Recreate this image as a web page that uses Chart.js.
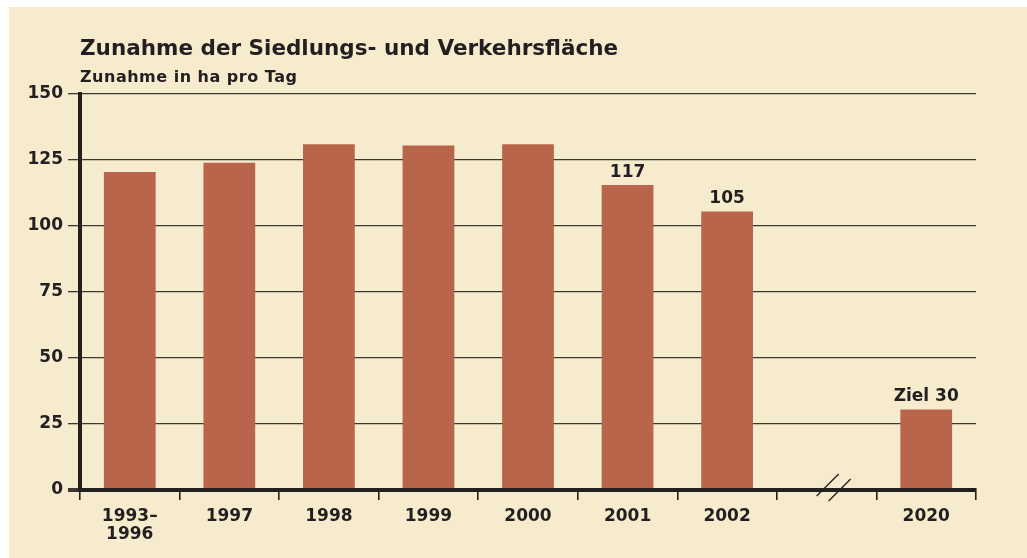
<!DOCTYPE html>
<html>
<head>
<meta charset="utf-8">
<script src="https://cdn.jsdelivr.net/npm/chart.js@4/dist/chart.umd.min.js"></script>
<style>
  html, body { margin: 0; padding: 0; background: #ffffff; }
  #wrap { position: relative; width: 1027px; height: 558px; overflow: hidden; }
  #panel { position: absolute; left: 9px; top: 7px; right: 0; bottom: 0; background: #f6ebcd; }
  #chart { position: absolute; left: 0; top: 0; }
  .t { position: absolute; left: 80px; font-family: "DejaVu Sans", sans-serif; font-weight: 700; color: #231f20; white-space: nowrap; line-height: 1; }
  #title { top: 37px; font-size: 21.5px; }
  #subtitle { top: 68.5px; font-size: 16px; letter-spacing: 0.5px; }
</style>
</head>
<body>
<div id="wrap">
  <div id="panel"></div>
  <canvas id="chart" width="1027" height="558"></canvas>
  <div class="t" id="title">Zunahme der Siedlungs- und Verkehrsfläche</div>
  <div class="t" id="subtitle">Zunahme in ha pro Tag</div>
</div>
<script>
// Kategorien und Werte
const categories = [['1993–', '1996'], '1997', '1998', '1999', '2000', '2001', '2002', '', '2020'];
const values = [120.5, 124, 131, 130.5, 131, 115.5, 105.5, null, 30.5];
const valueLabels = ['', '', '', '', '', '117', '105', '', 'Ziel 30'];
const yTicks = [0, 25, 50, 75, 100, 125, 150];
const breakIndex = 7;

const ink = '#231f20';
const fontFamily = '"DejaVu Sans", sans-serif';

// Beschriftungen über den Balken
const barLabels = {
  id: 'barLabels',
  afterDatasetsDraw(chart) {
    const ctx = chart.ctx;
    const meta = chart.getDatasetMeta(0);
    ctx.save();
    ctx.font = 'bold 17px ' + fontFamily;
    ctx.fillStyle = ink;
    ctx.textAlign = 'center';
    ctx.textBaseline = 'alphabetic';
    meta.data.forEach(function(bar, i) {
      if (valueLabels[i]) {
        ctx.fillText(valueLabels[i], bar.x, bar.y - 8);
      }
    });
    ctx.restore();
  }
};

// Achsenbruch "//"
const axisBreak = {
  id: 'axisBreak',
  afterDraw(chart) {
    const ctx = chart.ctx;
    const x = chart.scales.x.getPixelForValue(breakIndex);
    const y = chart.scales.y.getPixelForValue(0);
    ctx.save();
    ctx.strokeStyle = ink;
    ctx.lineWidth = 1.3;
    for (let k = 0; k < 2; k++) {
      ctx.beginPath();
      ctx.moveTo(x - 10 + k * 12, y + 6 + k * 5);
      ctx.lineTo(x + 12 + k * 12, y - 16 + k * 5);
      ctx.stroke();
    }
    ctx.restore();
  }
};

const ctx = document.getElementById('chart');
new Chart(ctx, {
  type: 'bar',
  data: {
    labels: categories,
    datasets: [{
      data: values,
      backgroundColor: '#b9654b',
      borderWidth: 0,
      barPercentage: 0.52,
      categoryPercentage: 1.0
    }]
  },
  options: {
    responsive: false,
    animation: false,
    devicePixelRatio: 1,
    layout: { padding: { left: 0, right: 51, top: 94, bottom: 0 } },
    plugins: {
      legend: { display: false },
      tooltip: { enabled: false }
    },
    scales: {
      x: {
        afterFit: function(scale) { scale.height = 68; },
        grid: {
          offset: true,
          drawOnChartArea: false,
          drawTicks: true,
          tickLength: 10,
          color: ink,
          lineWidth: 1.6
        },
        border: { display: true, color: ink, width: 4 },
        ticks: {
          color: ink,
          padding: 8,
          maxRotation: 0,
          autoSkip: false,
          font: { family: fontFamily, weight: 'bold', size: 17, lineHeight: 1.06 }
        }
      },
      y: {
        min: 0,
        max: 150,
        afterFit: function(scale) { scale.width = 80; },
        afterBuildTicks: function(scale) {
          scale.ticks = yTicks.map(function(v) { return { value: v }; });
        },
        grid: {
          drawTicks: true,
          tickLength: 12,
          color: '#3b3834',
          lineWidth: function(c) { return c.tick && c.tick.value === 0 ? 4 : 1.3; }
        },
        border: { display: true, color: ink, width: 4 },
        ticks: {
          color: ink,
          padding: 5,
          font: { family: fontFamily, weight: 'bold', size: 17 }
        }
      }
    }
  },
  plugins: [barLabels, axisBreak]
});
</script>
</body>
</html>
